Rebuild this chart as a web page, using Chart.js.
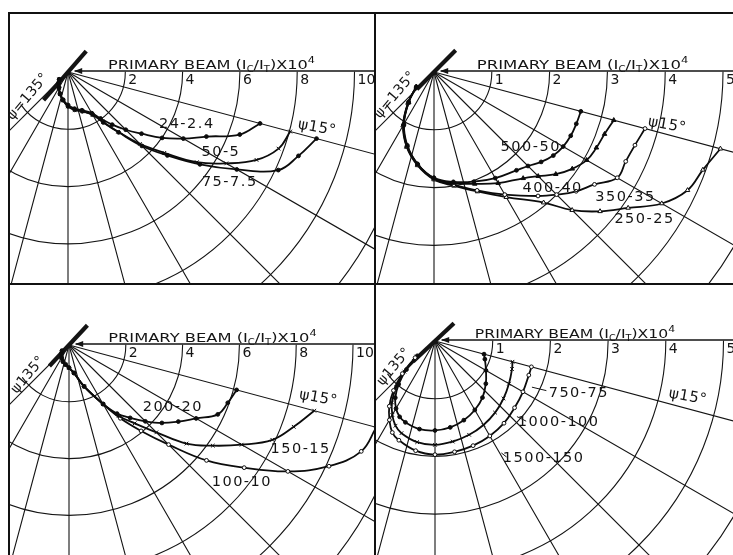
<!DOCTYPE html>
<html><head><meta charset="utf-8">
<title>Polar scattering curves</title>
<script src="https://cdn.jsdelivr.net/npm/chart.js@4.4.1/dist/chart.umd.min.js"></script>
<style>
html,body{margin:0;padding:0;background:#fff;}
#fig{position:relative;width:733px;height:555px;overflow:hidden;background:#fff;}
#fig canvas{position:absolute;}
.fr{position:absolute;background:#111;}
</style></head>
<body><div id="fig">
<canvas id="p1"></canvas><canvas id="p2"></canvas><canvas id="p3"></canvas><canvas id="p4"></canvas>
<div class="fr" style="left:8px;top:12px;width:725px;height:1.5px"></div>
<div class="fr" style="left:8px;top:12px;width:1.5px;height:543px"></div>
<div class="fr" style="left:374px;top:12px;width:1.5px;height:543px"></div>
<div class="fr" style="left:8px;top:283px;width:725px;height:1.5px"></div>
</div>
<script>
// ================= DATA =================
// axis title pieces: text, subscript, text, subscript, text, superscript
const TITLE = ['PRIMARY BEAM (I', 'C', '/I', 'T', ')X10', '4'];
// radial grid lines (scattering angle psi, degrees)
const SPOKES = [15, 30, 45, 60, 75, 90, 105, 120, 135];
// ring radii and their tick labels
const ringsWide = [2, 4, 6, 8, 10, 12, 14, 16];
const ticksWide = ['2', '4', '6', '8', '10'];
const ringsNarrow = [1, 2, 3, 4, 5, 6, 7, 8];
const ticksNarrow = ['1', '2', '3', '4', '5'];

// Panel A (top left): psi in degrees, r = (Ic/It) x 10^4
const psiA = [15, 20, 25, 30, 35, 40, 45, 50, 55, 60, 70, 80, 90, 100, 110, 120, 130, 140];
const rA_24 = [6.94, 6.38, 5.33, 4.65, 4.01, 3.35, 2.85, 2.40, 1.98, 1.66, 1.42, 1.30, 1.15, 0.98, 0.80, 0.62, 0.50, 0.40];
const rA_50 = [8.03, 7.82, 7.26, 6.38, 5.49, 4.39, 3.55, 2.72, 2.12, 1.72, 1.46, 1.34, 1.20, 1.00, 0.82, 0.64, 0.50, 0.40];
const rA_75 = [8.98, 8.56, 8.10, 6.80, 5.62, 4.53, 3.65, 2.75, 2.15, 1.72, 1.46, 1.34, 1.20, 1.00, 0.82, 0.64, 0.50, 0.40];

// Panel B (top right)
const psiB = [15, 20, 25, 30, 35, 40, 45, 50, 60, 70, 80, 90, 100, 110, 120, 130, 140];
const rB_500 = [2.63, 2.62, 2.61, 2.58, 2.52, 2.42, 2.30, 2.22, 2.12, 2.02, 1.93, 1.83, 1.62, 1.35, 1.04, 0.68, 0.40];
const rB_400 = [3.22, 3.14, 3.10, 3.05, 2.92, 2.75, 2.55, 2.40, 2.22, 2.06, 1.95, 1.84, 1.62, 1.36, 1.05, 0.68, 0.40];
const rB_350 = [3.78, 3.70, 3.66, 3.66, 3.39, 3.21, 3.00, 2.80, 2.45, 2.18, 1.98, 1.85, 1.63, 1.37, 1.06, 0.69, 0.40];
const rB_250 = [5.13, 4.95, 4.84, 4.55, 4.10, 3.75, 3.38, 2.95, 2.50, 2.20, 2.00, 1.86, 1.64, 1.38, 1.07, 0.70, 0.40];

// Panel C (bottom left)
const psiC = [15, 20, 25, 30, 35, 40, 45, 50, 55, 60, 70, 80, 90, 100, 110, 120, 130, 140];
const rC_200 = [6.11, 5.95, 5.78, 5.17, 4.70, 4.27, 3.80, 3.35, 2.95, 2.40, 1.55, 1.00, 0.80, 0.70, 0.62, 0.52, 0.42, 0.32];
const rC_150 = [8.94, 8.42, 7.90, 7.02, 6.18, 5.40, 4.35, 3.60, 3.05, 2.40, 1.55, 1.00, 0.80, 0.70, 0.62, 0.52, 0.42, 0.32];
const rC_100 = [11.2, 10.95, 10.10, 8.90, 7.53, 6.32, 4.96, 3.95, 3.15, 2.40, 1.55, 1.00, 0.80, 0.70, 0.62, 0.52, 0.42, 0.32];

// Panel D (bottom right)
const psiD = [15, 20, 30, 40, 50, 60, 70, 80, 90, 100, 110, 115, 120, 125, 130, 135, 140];
const rD_750 = [1.73, 1.73, 1.76, 1.80, 1.86, 1.90, 1.93, 1.95, 1.97, 1.93, 1.83, 1.75, 1.58, 1.38, 1.12, 0.80, 0.45];
const rD_1000 = [1.39, 1.42, 1.48, 1.55, 1.62, 1.68, 1.73, 1.77, 1.80, 1.78, 1.70, 1.62, 1.48, 1.30, 1.05, 0.75, 0.42];
const rD_1500 = [0.88, 0.92, 1.02, 1.15, 1.28, 1.38, 1.46, 1.52, 1.55, 1.55, 1.50, 1.45, 1.35, 1.20, 0.98, 0.70, 0.40];

// ================= LAYOUT =================
const PANELS = [
  { id: 'p1', frame: { left: 8, top: 12, right: 375, bottom: 284 }, origin: { x: 68, y: 72 }, ppu: 28.65,
    rings: ringsWide, ticks: ticksWide, title: [1.40, 8.62], bar: { psi: 131, a: -0.97, b: 1.30 }, psi135: 'ψ=135°',
    series: [
      { name: '24-2.4', psi: psiA, r: rA_24, marker: 'circle' },
      { name: '50-5', psi: psiA, r: rA_50, marker: 'crossRot' },
      { name: '75-7.5', psi: psiA, r: rA_75, marker: 'circle' }],
    labels: [['24-2.4', 4.12, -1.81], ['50-5', 5.31, -2.79], ['75-7.5', 5.62, -3.84]],
    l15: [8.69, -1.95], l135: [-1.40, -0.87] },
  { id: 'p2', frame: { left: 375, top: 12, right: 733, bottom: 284 }, origin: { x: 434, y: 72 }, ppu: 57.8,
    rings: ringsNarrow, ticks: ticksNarrow, title: [0.74, 4.40], bar: { psi: 135, a: -0.53, b: 0.42 }, psi135: 'ψ=135°',
    series: [
      { name: '500-50', psi: psiB, r: rB_500, marker: 'circle' },
      { name: '400-40', psi: psiB, r: rB_400, marker: 'triangle' },
      { name: '350-35', psi: psiB, r: rB_350, marker: 'circle', open: true },
      { name: '250-25', psi: psiB, r: rB_250, marker: 'triangle', open: true }],
    labels: [['500-50', 1.66, -1.31], ['400-40', 2.04, -2.01], ['350-35', 3.30, -2.16], ['250-25', 3.63, -2.54]],
    l15: [4.03, -0.92], l135: [-0.67, -0.40] },
  { id: 'p3', frame: { left: 8, top: 284, right: 375, bottom: 555 }, origin: { x: 69, y: 345 }, ppu: 28.4,
    rings: ringsWide, ticks: ticksWide, title: [1.38, 8.72], bar: { psi: 133, a: -0.95, b: 1.01 }, psi135: 'ψ135°',
    series: [
      { name: '200-20', psi: psiC, r: rC_200, marker: 'circle' },
      { name: '150-15', psi: psiC, r: rC_150, marker: 'crossRot' },
      { name: '100-10', psi: psiC, r: rC_100, marker: 'circle', open: true }],
    labels: [['200-20', 3.63, -2.18], ['150-15', 8.13, -3.66], ['100-10', 6.06, -4.82]],
    l15: [8.77, -1.87], l135: [-1.44, -1.06] },
  { id: 'p4', frame: { left: 375, top: 284, right: 733, bottom: 555 }, origin: { x: 435, y: 341 }, ppu: 57.7,
    rings: ringsNarrow, ticks: ticksNarrow, title: [0.69, 4.16], bar: { psi: 137, a: -0.45, b: 0.52 }, psi135: 'ψ135°',
    series: [
      { name: '750-75', psi: psiD, r: rD_750, marker: 'circle', open: true },
      { name: '1000-100', psi: psiD, r: rD_1000, marker: 'crossRot' },
      { name: '1500-150', psi: psiD, r: rD_1500, marker: 'circle' }],
    labels: [['750-75', 2.48, -0.90], ['1000-100', 2.13, -1.40], ['1500-150', 1.87, -2.03]],
    leaders: [[1.68, -0.80, 1.93, -0.86], [1.42, -1.31, 1.58, -1.39], [1.15, -1.94, 1.24, -2.01]],
    l15: [4.38, -0.97], l135: [-0.71, -0.45] }
];

// ================= DRAWING =================
const DEG = Math.PI / 180;
const INK = '#141414';
const FONT = 'DejaVu Sans';
function toXY(r, psi) { return { x: r * Math.cos(psi * DEG), y: -r * Math.sin(psi * DEG) }; }

function spaced(ctx, txt, x, y, sp) {
  const ch = [...txt];
  const ws = ch.map(c => ctx.measureText(c).width);
  const tot = ws.reduce((a, b) => a + b, 0) + sp * (ch.length - 1);
  let cx = x - tot / 2;
  ctx.textAlign = 'left';
  ch.forEach((c, i) => { ctx.fillText(c, cx, y); cx += ws[i] + sp; });
}

function gridPlugin(P) {
  return {
    id: 'polarGrid' + P.id,
    beforeDatasetsDraw(chart) {
      const ctx = chart.ctx, xs = chart.scales.x, ys = chart.scales.y;
      const cx = xs.getPixelForValue(0), cy = ys.getPixelForValue(0);
      const k = xs.getPixelForValue(1) - cx;
      const px = (u) => xs.getPixelForValue(u), py = (v) => ys.getPixelForValue(v);
      ctx.save();
      ctx.strokeStyle = INK; ctx.lineWidth = 1.1; ctx.lineCap = 'round';
      P.rings.forEach(r => { ctx.beginPath(); ctx.arc(cx, cy, r * k, 0, 145 * DEG); ctx.stroke(); });
      SPOKES.forEach(a => {
        const e = toXY(40, a);
        ctx.beginPath(); ctx.moveTo(cx, cy); ctx.lineTo(px(e.x), py(e.y)); ctx.stroke();
      });
      // primary beam axis with arrow head at the target
      const a0 = 0.25 * 28.65 / P.ppu;
      ctx.lineWidth = 1.4;
      ctx.beginPath(); ctx.moveTo(px(a0), cy - 1); ctx.lineTo(px(40), cy - 1); ctx.stroke();
      ctx.fillStyle = INK;
      ctx.beginPath(); ctx.moveTo(px(a0) - 1, cy - 1); ctx.lineTo(px(a0) + 7, cy - 4); ctx.lineTo(px(a0) + 7, cy + 2); ctx.closePath(); ctx.fill();
      // target bar
      const b1 = toXY(P.bar.a, P.bar.psi), b2 = toXY(P.bar.b, P.bar.psi);
      ctx.lineWidth = 4.2; ctx.lineCap = 'butt';
      ctx.beginPath(); ctx.moveTo(px(b1.x), py(b1.y)); ctx.lineTo(px(b2.x), py(b2.y)); ctx.stroke();
      ctx.restore();
    },
    afterDatasetsDraw(chart) {
      const ctx = chart.ctx, xs = chart.scales.x, ys = chart.scales.y;
      const px = (u) => xs.getPixelForValue(u), py = (v) => ys.getPixelForValue(v);
      const cy = py(0);
      ctx.save();
      ctx.fillStyle = INK; ctx.strokeStyle = INK;
      // axis title, fitted between the two given radii
      const fonts = ['13px ' + FONT, '8px ' + FONT, '13px ' + FONT, '8px ' + FONT, '13px ' + FONT, '9px ' + FONT];
      const dy = [0, 3, 0, 3, 0, -6];
      let w = 0; const ws = [];
      TITLE.forEach((t, i) => { ctx.font = fonts[i]; ws.push(ctx.measureText(t).width); w += ws[i]; });
      const x0 = px(P.title[0]), x1 = px(P.title[1]);
      ctx.save(); ctx.translate(x0, cy - 3.5); ctx.scale((x1 - x0) / w, 1);
      ctx.textBaseline = 'alphabetic'; ctx.textAlign = 'left';
      let cx = 0;
      TITLE.forEach((t, i) => { ctx.font = fonts[i]; ctx.fillText(t, cx, dy[i]); cx += ws[i]; });
      ctx.restore();
      // ring tick labels
      ctx.font = '14px ' + FONT; ctx.textBaseline = 'top'; ctx.textAlign = 'left';
      P.ticks.forEach((t, i) => ctx.fillText(t, px(P.rings[i]) + 3, cy + 1));
      // curve labels
      ctx.font = '14.5px ' + FONT; ctx.textBaseline = 'middle';
      P.labels.forEach(l => spaced(ctx, l[0], px(l[1]), py(l[2]), 1.5));
      if (P.leaders) {
        ctx.lineWidth = 1;
        P.leaders.forEach(s => { ctx.beginPath(); ctx.moveTo(px(s[0]), py(s[1])); ctx.lineTo(px(s[2]), py(s[3])); ctx.stroke(); });
      }
      // angle labels
      ctx.font = '15px ' + FONT;
      ctx.save(); ctx.translate(px(P.l15[0]), py(P.l15[1])); ctx.rotate(10 * DEG); spaced(ctx, 'ψ15°', 0, 0, 0.5); ctx.restore();
      ctx.font = '14px ' + FONT;
      ctx.save(); ctx.translate(px(P.l135[0]), py(P.l135[1])); ctx.rotate(-50 * DEG); spaced(ctx, P.psi135, 0, 0, 0.3); ctx.restore();
      ctx.restore();
    }
  };
}

function makePanel(P) {
  const cv = document.getElementById(P.id);
  const W = P.frame.right - P.frame.left, H = P.frame.bottom - P.frame.top;
  cv.width = W; cv.height = H;
  cv.style.left = P.frame.left + 'px'; cv.style.top = P.frame.top + 'px';
  cv.style.width = W + 'px'; cv.style.height = H + 'px';
  const ox = P.origin.x - P.frame.left, oy = P.origin.y - P.frame.top;
  const datasets = P.series.map(s => ({
    label: s.name,
    data: s.psi.map((p, i) => toXY(s.r[i], p)),
    showLine: true, tension: 0.4, borderColor: '#0c0c0c', borderWidth: 1.8,
    pointStyle: s.marker, pointRadius: s.marker === 'circle' ? 1.9 : 2.6, pointBorderWidth: 1,
    pointBackgroundColor: s.open ? '#fff' : '#0c0c0c', pointBorderColor: '#0c0c0c'
  }));
  new Chart(cv, {
    type: 'scatter',
    data: { datasets },
    options: {
      responsive: false, animation: false, devicePixelRatio: 1, events: [],
      layout: { padding: 0, autoPadding: false },
      scales: {
        x: { type: 'linear', display: false, min: -ox / P.ppu, max: (W - ox) / P.ppu },
        y: { type: 'linear', display: false, min: -(H - oy) / P.ppu, max: oy / P.ppu }
      },
      plugins: { legend: { display: false }, tooltip: { enabled: false } }
    },
    plugins: [gridPlugin(P)]
  });
}
PANELS.forEach(makePanel);
</script>
</body></html>
